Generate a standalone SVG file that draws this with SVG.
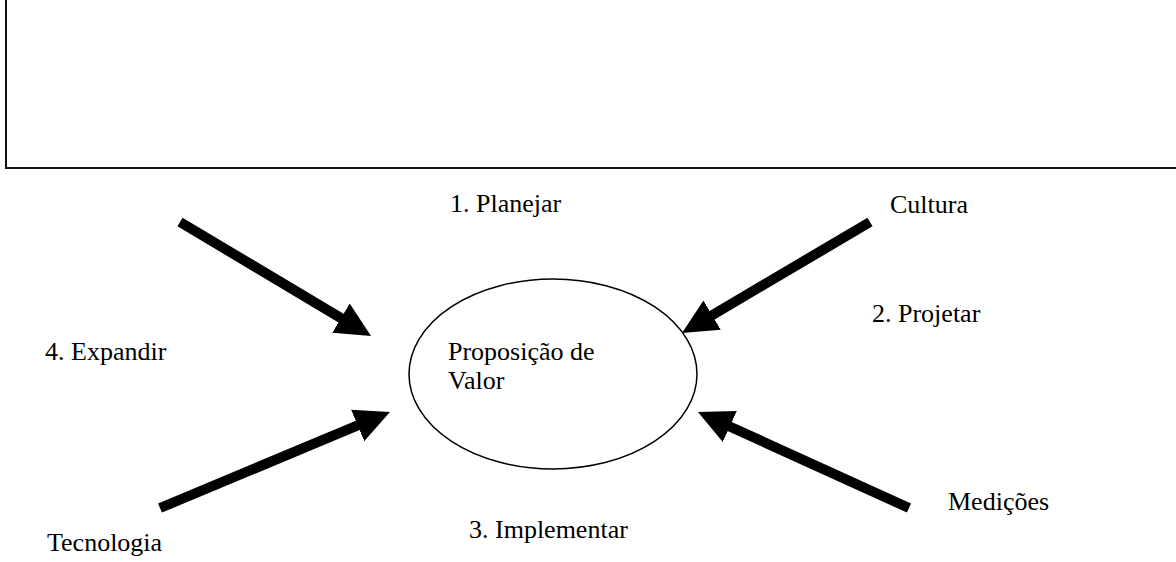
<svg xmlns="http://www.w3.org/2000/svg" width="1176" height="562" viewBox="0 0 1176 562">
<style>
  .t { font-family: "Liberation Serif", "Times New Roman", serif; font-size: 26px; fill: #000; }
  .frame { fill: none; stroke: #111; stroke-width: 2; }
  .ell { fill: #fff; stroke: #000; stroke-width: 1.5; }
  .arr { stroke: #000; stroke-width: 10; fill: none; marker-end: url(#head); }
</style>
<defs>
  <marker id="head" markerUnits="userSpaceOnUse" markerWidth="36" markerHeight="36" viewBox="0 -18 36 36" refX="2" refY="0" orient="auto">
    <path d="M0,-17 L35,0 L0,17 Z" fill="#000"/>
  </marker>
</defs>
<rect width="1176" height="562" fill="#fff"/>
<g id="frame">
  <path class="frame" d="M6,0 V168 H1176"/>
</g>
<g id="node-valor">
  <ellipse class="ell" cx="553" cy="374" rx="144" ry="95"/>
  <text class="t" x="448" y="360">Proposição de</text>
  <text class="t" x="448" y="389">Valor</text>
</g>
<g id="label-planejar"><text class="t" x="450" y="212">1. Planejar</text></g>
<g id="label-projetar"><text class="t" x="872" y="322">2. Projetar</text></g>
<g id="label-implementar"><text class="t" x="469" y="538">3. Implementar</text></g>
<g id="label-expandir"><text class="t" x="45" y="360">4. Expandir</text></g>
<g id="node-cultura"><text class="t" x="890" y="213">Cultura</text></g>
<g id="node-tecnologia"><text class="t" x="47" y="551">Tecnologia</text></g>
<g id="node-medicoes"><text class="t" x="948" y="510">Medições</text></g>
<g id="connectors">
  <line class="arr" x1="180" y1="222" x2="342.7" y2="319.1"/>
  <line class="arr" x1="870" y1="222" x2="710.4" y2="316.2"/>
  <line class="arr" x1="160" y1="508" x2="359.5" y2="424.7"/>
  <line class="arr" x1="909" y1="508" x2="728" y2="425.7"/>
</g>
</svg>
